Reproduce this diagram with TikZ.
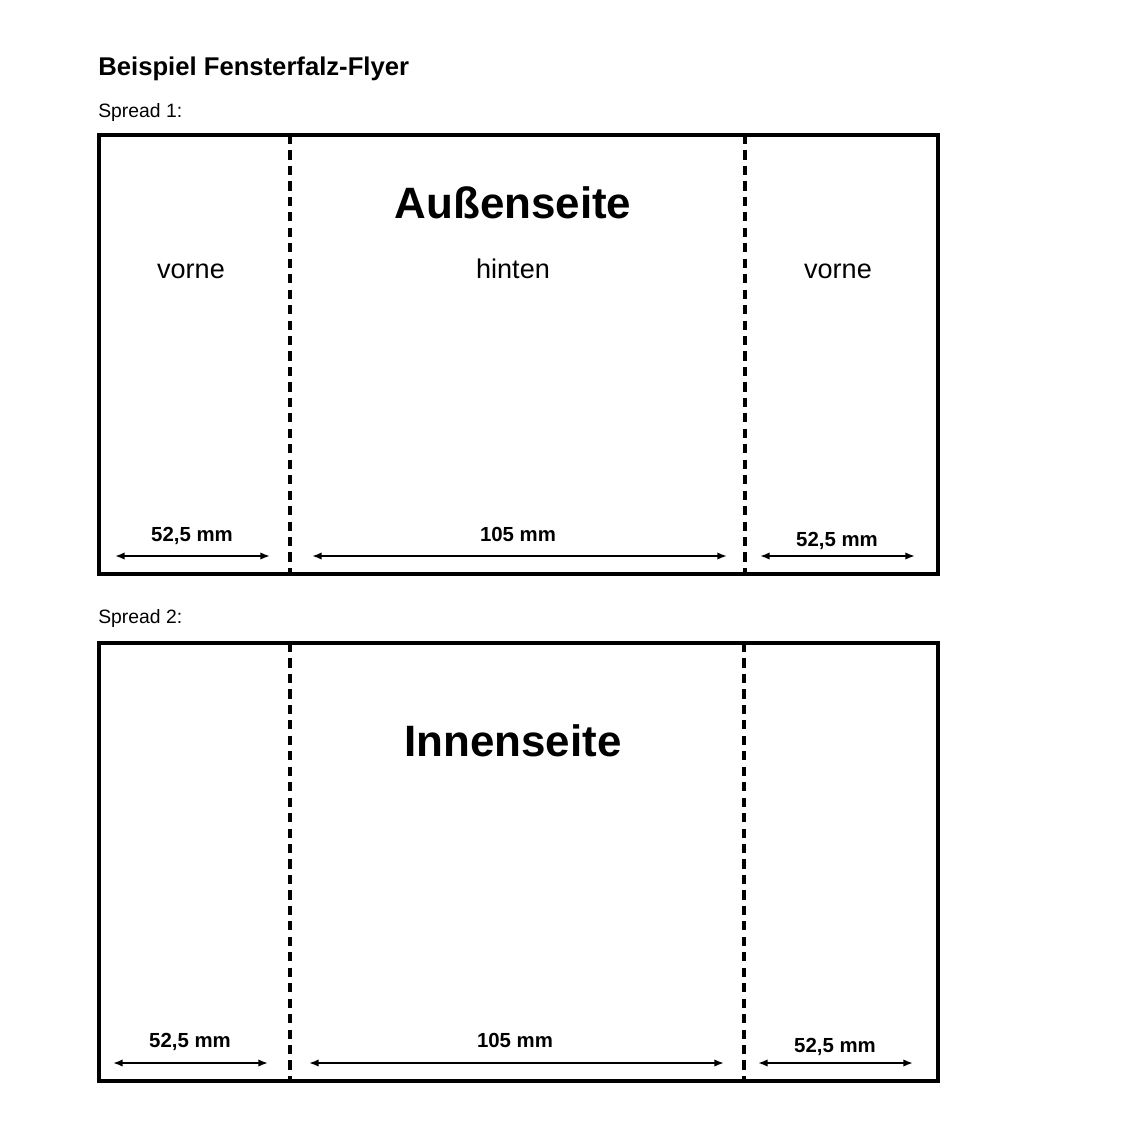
\documentclass[tikz,border=0pt]{standalone}
\usepackage{fontspec}
\setmainfont{Liberation Sans}
\usetikzlibrary{arrows.meta, positioning}

\begin{document}
\begin{tikzpicture}[x=0.02cm, y=-0.02cm,
    panel/.style={draw, line width=1.8pt},
    fold/.style={line width=1.8pt, dash pattern=on 5.2pt off 3.6pt},
    dimarrow/.style={line width=1pt, {Latex[length=5.5pt,width=4.2pt]}-{Latex[length=5.5pt,width=4.2pt]}},
    dimlabel/.style={font=\fontsize{11.6}{13}\selectfont\bfseries, anchor=base, inner sep=0pt},
    sidelabel/.style={font=\fontsize{15.4}{18}\selectfont, anchor=base, inner sep=0pt},
    bigtitle/.style={font=\fontsize{25}{30}\selectfont\bfseries, anchor=base, inner sep=0pt},
    spreadlabel/.style={font=\fontsize{11}{13}\selectfont, anchor=base west, inner sep=0pt}]
  \useasboundingbox (0,0) rectangle (1133,1134);

  % Heading
  \node[font=\fontsize{14.6}{17}\selectfont\bfseries, anchor=base west, inner sep=0pt] (title) at (98,75) {Beispiel Fensterfalz-Flyer};
  \node[spreadlabel] (spreadA) at (98,117) {Spread 1:};

  % Spread 1: Aussenseite
  \draw[panel] (99,135) rectangle (938,574);
  \draw[fold] (290,135) -- (290,574);
  \draw[fold] (745,135) -- (745,574);
  \node[bigtitle] (outer) at (513,218) {Außenseite};
  \node[sidelabel] (frontA) at (191,278) {vorne};
  \node[sidelabel] (backA) at (513,278) {hinten};
  \node[sidelabel] (frontB) at (838,278) {vorne};

  \node[dimlabel] (dimA1) at (192,541) {52,5 mm};
  \node[dimlabel] (dimA2) at (518,541) {105 mm};
  \node[dimlabel] (dimA3) at (837,546) {52,5 mm};
  \coordinate (a1l) at (115,556); \coordinate (a1r) at (270,556);
  \coordinate (a2l) at (312,556); \coordinate (a2r) at (727,556);
  \coordinate (a3l) at (760,556); \coordinate (a3r) at (915,556);
  \draw[dimarrow] (a1l) -- (a1r);
  \draw[dimarrow] (a2l) -- (a2r);
  \draw[dimarrow] (a3l) -- (a3r);

  % Spread 2: Innenseite
  \node[spreadlabel] (spreadB) at (98,623) {Spread 2:};
  \draw[panel] (99,643) rectangle (938,1081);
  \draw[fold] (290,643) -- (290,1081);
  \draw[fold] (744,643) -- (744,1081);
  \node[bigtitle] (inner) at (513,756) {Innenseite};

  \node[dimlabel] (dimB1) at (190,1047) {52,5 mm};
  \node[dimlabel] (dimB2) at (515,1047) {105 mm};
  \node[dimlabel] (dimB3) at (835,1052) {52,5 mm};
  \coordinate (b1l) at (113,1063); \coordinate (b1r) at (268,1063);
  \coordinate (b2l) at (309,1063); \coordinate (b2r) at (724,1063);
  \coordinate (b3l) at (758,1063); \coordinate (b3r) at (913,1063);
  \draw[dimarrow] (b1l) -- (b1r);
  \draw[dimarrow] (b2l) -- (b2r);
  \draw[dimarrow] (b3l) -- (b3r);
\end{tikzpicture}
\end{document}
